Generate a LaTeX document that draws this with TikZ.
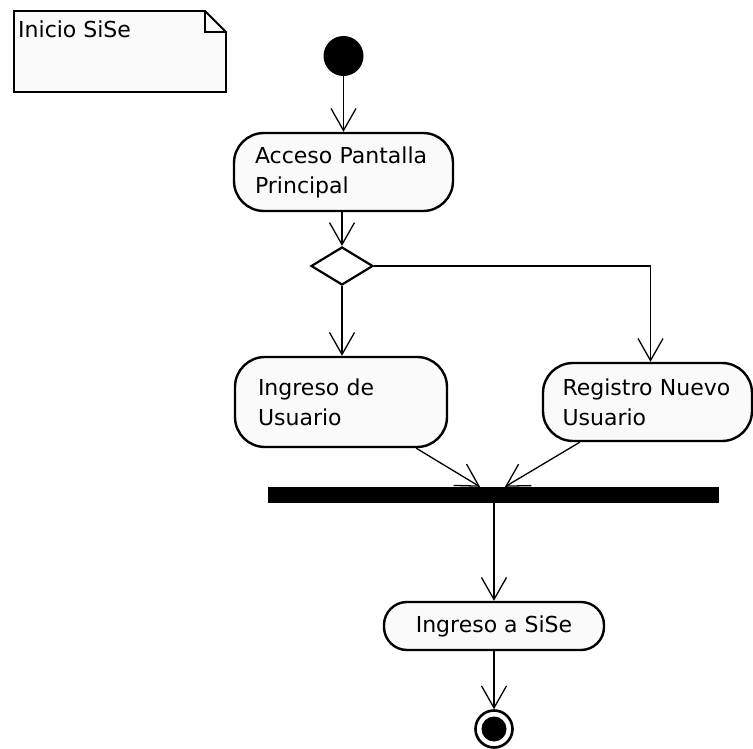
\documentclass[tikz,border=0pt]{standalone}
\usepackage{fontspec}
\setmainfont{DejaVu Sans}
\usetikzlibrary{arrows.meta,shapes.geometric}
\begin{document}
\begin{tikzpicture}[x=1pt,y=-1pt,
  every node/.style={font=\fontsize{22}{30}\selectfont},
  action/.style={draw, line width=2.4pt, fill=black!2, rounded corners=30pt,
    inner ysep=0pt, minimum height=#1, align=left},
  flow/.style={line width=1.3pt,
    -{Straight Barb[length=22pt,width=25pt,line width=1.3pt]}},
  solid dot/.style={circle, fill=black, inner sep=0pt, minimum size=#1}]
\useasboundingbox (0,0) rectangle (753,749);

% note with folded corner
\draw[line width=1.8pt, fill=black!2]
  (14,11) -- (205,11) -- (226,32) -- (226,92) -- (14,92) -- cycle;
\draw[line width=1.5pt] (205,11) -- (205,32) -- (226,32);
\node[anchor=base west, inner sep=0pt] (note) at (18,38) {Inicio SiSe};

% start
\node[solid dot=40pt] (start) at (343.5,56) {};

% actions and decision
\node[action=78pt, text width=177pt, inner xsep=21pt] (acc) at (343.5,172)
  {Acceso Pantalla\\Principal};
\node[diamond, draw, line width=2.2pt, fill=white, inner sep=0pt,
  minimum width=62pt, minimum height=38pt] (dec) at (342,266) {};
\node[action=90pt, text width=166pt, inner xsep=23pt] (ing) at (341,402)
  {Ingreso de\\Usuario};
\node[action=78pt, text width=170pt, inner xsep=19.5pt] (reg) at (647.5,402)
  {Registro Nuevo\\Usuario};

% join bar
\node[fill=black, inner sep=0pt, minimum width=451pt, minimum height=16pt]
  (bar) at (493.5,495) {};

\node[action=48pt, rounded corners=23pt, minimum width=220pt, align=center,
  inner xsep=0pt] (sise) at (494,626) {Ingreso a SiSe};

% end
\node[circle, draw, line width=2.6pt, fill=white, inner sep=0pt,
  minimum size=37pt] (end) at (494,729) {};
\node[solid dot=25pt] (endcore) at (end.center) {};

% flows
\draw[flow] (start) -- (acc);
\draw[flow] (acc.south -| dec.north) -- (dec);
\draw[flow] (dec) -- (dec |- ing.north);
\draw[flow] (dec.east) -| ([xshift=3pt]reg.north);
\draw[flow] ([xshift=-32pt]ing.south east) -- ([xshift=-13.5pt]bar.north);
\draw[flow] ([xshift=38pt]reg.south west) -- ([xshift=11.5pt]bar.north);
\draw[flow] (bar.south -| sise.north) -- (sise.north);
\draw[flow] (sise) -- (end);
\end{tikzpicture}
\end{document}
